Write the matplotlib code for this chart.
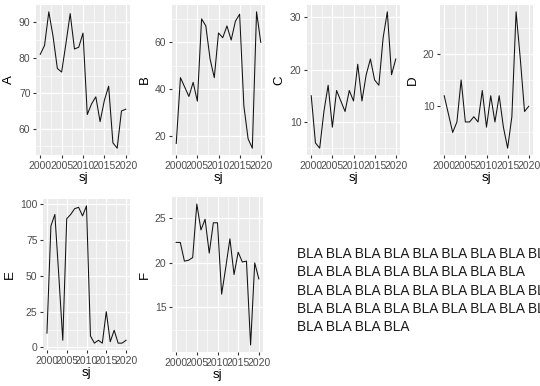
import matplotlib.pyplot as plt
from matplotlib.ticker import MultipleLocator

sj = list(range(2000, 2021))

A = [81, 83.5, 93, 86, 77, 76, 84, 92.5, 82.5, 83, 87, 64, 67, 69, 62, 68, 72, 56, 54.5, 65, 65.5]
B = [17, 45, 41, 37, 43, 35, 70, 67, 53, 45, 64, 62, 67, 61, 69, 72, 33, 19, 15, 73, 60]
C = [15, 6, 5, 12, 17, 9, 16, 14, 12, 16, 14, 21, 14, 19, 22, 18, 17, 26, 31, 19, 22]
D = [12, 8.5, 5, 7, 15, 7, 7, 8, 7, 13, 6, 12, 7, 12, 6, 2, 8, 28, 19, 9, 10]
E = [10, 85, 93, 50, 5, 90, 93, 97, 98, 92, 99, 8, 3, 5, 3, 25, 4, 12, 3, 3, 5]
F = [22.3, 22.3, 20.2, 20.3, 20.6, 26.6, 23.7, 24.9, 21.1, 24.5, 24.5, 16.5, 19.5, 22.7,
     18.7, 21.2, 20.1, 20.2, 10.8, 20.0, 18.2]

bla_lines = [
    "BLA BLA BLA BLA BLA BLA BLA BLA BLA",
    "BLA BLA BLA BLA BLA BLA BLA BLA",
    "BLA BLA BLA BLA BLA BLA BLA BLA BLA",
    "BLA BLA BLA BLA BLA BLA BLA BLA BLA",
    "BLA BLA BLA BLA",
]

W, H = 540, 386
fig = plt.figure(figsize=(W / 100, H / 100), dpi=100)
plt.rcParams['font.family'] = ['Liberation Sans', 'DejaVu Sans']


def panel(x0, x1, y0, y1, values, name, ystep):
    ax = fig.add_axes([x0 / W, 1 - y1 / H, (x1 - x0) / W, (y1 - y0) / H])
    ax.set_facecolor('#EBEBEB')
    ax.plot(sj, values, color='#111111', lw=0.75)
    lo, hi = min(values), max(values)
    pad = (hi - lo) * 0.05
    ax.set_ylim(lo - pad, hi + pad)
    ax.set_xlim(2000 - 1, 2020 + 1)
    ax.xaxis.set_major_locator(MultipleLocator(5))
    ax.xaxis.set_minor_locator(MultipleLocator(2.5))
    ax.yaxis.set_major_locator(MultipleLocator(ystep))
    ax.yaxis.set_minor_locator(MultipleLocator(ystep / 2))
    ax.grid(which='major', color='white', lw=0.9)
    ax.grid(which='minor', color='white', lw=0.45)
    ax.set_axisbelow(True)
    for s in ax.spines.values():
        s.set_visible(False)
    ax.tick_params(which='major', colors='#333333', labelcolor='#4D4D4D',
                   labelsize=7.5, length=2.5, width=0.8, pad=1.5)
    ax.tick_params(which='minor', length=0)
    ax.set_xlabel('sj', fontsize=9.5, labelpad=1)
    ax.set_ylabel(name, fontsize=9.5, labelpad=3)
    return ax


panel(36, 130, 5, 155, A, 'A', 10)
panel(172, 265, 5, 155, B, 'B', 20)
panel(307, 400, 5, 155, C, 'C', 10)
panel(440, 533, 5, 155, D, 'D', 10)
panel(43, 130, 199, 350, E, 'E', 25)
panel(172, 263, 197, 352, F, 'F', 5)

for i, line in enumerate(bla_lines):
    fig.text(297 / W, 1 - (254 + i * 18.3) / H, line, fontsize=9.8,
             color='#1A1A1A', va='center', ha='left')

fig.savefig('out.png', dpi=100)
